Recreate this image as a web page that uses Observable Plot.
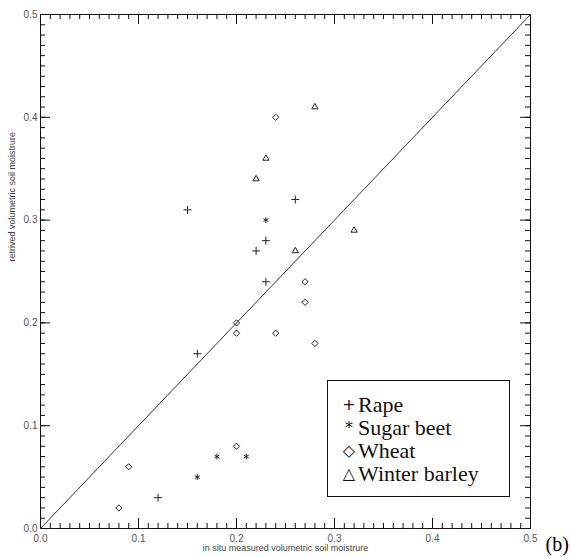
<!DOCTYPE html>
<html><head><meta charset="utf-8">
<script src="https://cdn.jsdelivr.net/npm/d3@7"></script>
<script src="https://cdn.jsdelivr.net/npm/@observablehq/plot@0.6"></script>
<style>
html,body{margin:0;padding:0;background:#fff;overflow:hidden;width:571px;height:557px;}
#chart{position:absolute;left:0;top:0;width:571px;height:557px;}
#chart svg{display:block;}
#legend{position:absolute;left:327px;top:380px;width:181px;height:115px;border:1px solid #111;background:#fff;font-family:"Liberation Serif","Times New Roman",serif;font-size:22px;color:#111;}
.row{position:absolute;left:0;height:23px;line-height:23px;white-space:nowrap;}
.sym{position:absolute;left:12px;width:18px;text-align:center;font-family:"DejaVu Sans",sans-serif;font-size:16px;}
.lab{position:absolute;left:30px;}
</style></head>
<body><div id="chart"></div><div id="legend"></div>
<script>
// ---- data ----
const rapeX = [0.26, 0.15, 0.23, 0.22, 0.23, 0.16, 0.12];
const rapeY = [0.32, 0.31, 0.28, 0.27, 0.24, 0.17, 0.03];
const beetX = [0.23, 0.16, 0.18, 0.21];
const beetY = [0.30, 0.05, 0.07, 0.07];
const wheatX = [0.24, 0.27, 0.27, 0.20, 0.20, 0.24, 0.28, 0.09, 0.08, 0.20];
const wheatY = [0.40, 0.24, 0.22, 0.20, 0.19, 0.19, 0.18, 0.06, 0.02, 0.08];
const barleyX = [0.28, 0.23, 0.22, 0.26, 0.32];
const barleyY = [0.41, 0.36, 0.34, 0.27, 0.29];
const seriesNames = ["Rape", "Sugar beet", "Wheat", "Winter barley"];
const seriesSymbols = ["plus", "asterisk", "diamond2", "triangle2"];
const seriesRadius = [2.7, 2.7, 2.8, 3.0];
const legendGlyphs = ["+", "*", "\u25C7", "\u25B3"];
const axisDomain = [0, 0.5];
const oneToOne = [0, 0.5];
const majorTicks = [0, 0.1, 0.2, 0.3, 0.4, 0.5];
const minorTicks = d3.range(0, 51).map(i => i / 100);
const xTitle = "in situ measured volumetric soil moistrure";
const yTitle = "retrived volumetric soil moistrure";
const panelTag = "(b)";

// ---- build ----
const W = 571, H = 557, mL = 40, mR = 41, mT = 14, mB = 29;
const fw = W - mL - mR, fh = H - mT - mB;
const [d0, d1] = axisDomain;
const span = d1 - d0;
const toPts = (xs, ys) => xs.map((x, i) => ({x, y: ys[i]}));
const groups = [toPts(rapeX, rapeY), toPts(beetX, beetY), toPts(wheatX, wheatY), toPts(barleyX, barleyY)];
const diag = oneToOne.map(v => ({x: v, y: v}));
const ink = "#111";

// inward frame ticks as short rules; lengths given in pixels, converted through the frame size
function frameTicks(values, len) {
  const ly = span * len / fh, lx = span * len / fw;
  return [
    Plot.ruleX(values, {x: d => d, y1: () => d0, y2: () => d0 + ly, stroke: ink, strokeWidth: 1}),
    Plot.ruleX(values, {x: d => d, y1: () => d1 - ly, y2: () => d1, stroke: ink, strokeWidth: 1}),
    Plot.ruleY(values, {y: d => d, x1: () => d0, x2: () => d0 + lx, stroke: ink, strokeWidth: 1}),
    Plot.ruleY(values, {y: d => d, x1: () => d1 - lx, x2: () => d1, stroke: ink, strokeWidth: 1})
  ];
}

const chart = Plot.plot({
  width: W, height: H,
  marginLeft: mL, marginRight: mR, marginTop: mT, marginBottom: mB,
  style: {fontFamily: "'Liberation Sans', Arial, sans-serif", fontSize: "10px", color: "#555", background: "#fff"},
  x: {domain: axisDomain},
  y: {domain: axisDomain},
  marks: [
    Plot.frame({stroke: ink}),
    ...frameTicks(minorTicks, 5),
    ...frameTicks(majorTicks, 10),
    Plot.line(diag, {x: "x", y: "y", stroke: "#333", strokeWidth: 1}),
    Plot.axisX(majorTicks, {tickSize: 0, tickPadding: 6, tickFormat: d3.format(".1f"), label: null}),
    Plot.axisY(majorTicks, {tickSize: 0, tickPadding: 3, tickFormat: d3.format(".1f"), label: null}),
    Plot.text([xTitle], {frameAnchor: "bottom", dy: 22, fontSize: 9, fill: "#444"}),
    Plot.text([yTitle], {frameAnchor: "left", rotate: -90, dx: -28, dy: -10, fontSize: 9, fill: "#444"}),
    Plot.text([panelTag], {frameAnchor: "bottom-right", dx: 15, dy: 22, textAnchor: "start", fontFamily: "'Liberation Serif', serif", fontSize: 20, fill: "#000"}),
    ...groups.map((g, i) => Plot.dot(g, {x: "x", y: "y", symbol: seriesSymbols[i], r: seriesRadius[i], stroke: "#222", strokeWidth: 1}))
  ]
});
document.getElementById("chart").appendChild(chart);

const legend = document.getElementById("legend");
seriesNames.forEach((name, i) => {
  const row = document.createElement("div");
  row.className = "row";
  row.style.top = (12 + i * 23) + "px";
  row.innerHTML = `<span class="sym">${legendGlyphs[i]}</span><span class="lab">${name}</span>`;
  legend.appendChild(row);
});
</script>
</body></html>
